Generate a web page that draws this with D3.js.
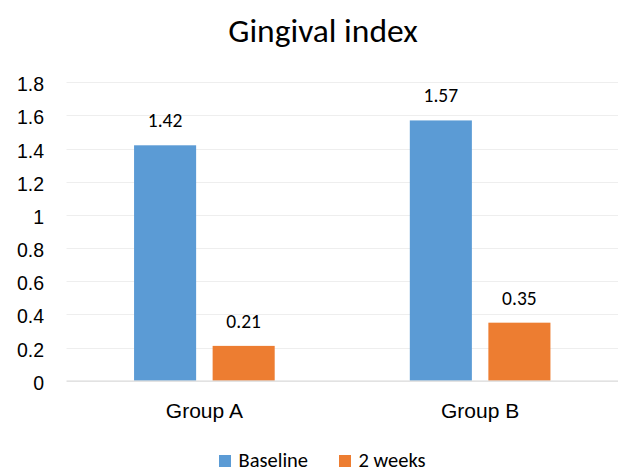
<!DOCTYPE html>
<html>
<head>
<meta charset="utf-8">
<script src="https://cdn.jsdelivr.net/npm/d3@7"></script>
<style>
  html, body { margin: 0; padding: 0; background: #fff; }
  svg { display: block; font-family: Carlito, Calibri, Lato, "Liberation Sans", sans-serif; }
</style>
</head>
<body>
<svg id="chart" width="618" height="472"></svg>
<script>
// Gingival index, grouped bars per group
const groups = ["Group A", "Group B"];
const seriesNames = ["Baseline", "2 weeks"];
const baseline = [1.42, 1.57];
const twoWeeks = [0.21, 0.35];
const yTicks = [0, 0.2, 0.4, 0.6, 0.8, 1, 1.2, 1.4, 1.6, 1.8];
const colors = ["#5B9BD5", "#ED7D31"];

const seriesValues = [baseline, twoWeeks];
const rows = groups.map((g, i) => ({
  group: g,
  values: seriesNames.map((s, j) => ({ series: s, value: seriesValues[j][i] }))
}));

const svg = d3.select("#chart");
const plot = { left: 66.5, right: 618, top: 82.3, bottom: 380.7 };

const y = d3.scaleLinear().domain([0, 1.8]).range([plot.bottom, plot.top]);
const x0 = d3.scaleBand().domain(groups).range([plot.left, plot.right]);
const bw = x0.bandwidth();
const inset = bw * 0.245;
const x1 = d3.scaleBand().domain(seriesNames).range([inset, bw - inset]).paddingInner(0.21);

// gridlines
svg.append("g")
  .selectAll("line")
  .data(yTicks.filter(t => t > 0))
  .join("line")
  .attr("x1", plot.left).attr("x2", plot.right)
  .attr("y1", d => Math.round(y(d)) + 0.5).attr("y2", d => Math.round(y(d)) + 0.5)
  .attr("stroke", "#EEEEEE").attr("stroke-width", 1);

// y tick labels
const yAxis = d3.axisLeft(y).tickValues(yTicks).tickFormat(d3.format("~g")).tickSize(0).tickPadding(0);
const yg = svg.append("g").attr("transform", `translate(44,0)`).call(yAxis);
yg.select(".domain").remove();
yg.selectAll("text")
  .attr("font-size", 19.5).attr("fill", "#000").attr("font-family", null)
  .attr("dy", "8.5px");

// bars
const gGroups = svg.append("g").selectAll("g")
  .data(rows).join("g")
  .attr("transform", d => `translate(${x0(d.group)},0)`);

gGroups.selectAll("rect")
  .data(d => d.values).join("rect")
  .attr("x", d => x1(d.series))
  .attr("width", x1.bandwidth())
  .attr("y", d => y(d.value))
  .attr("height", d => y(0) - y(d.value))
  .attr("fill", (d, i) => colors[i]);

// value labels
gGroups.selectAll("text")
  .data(d => d.values).join("text")
  .attr("x", d => x1(d.series) + x1.bandwidth() / 2)
  .attr("y", d => y(d.value) - 18)
  .attr("text-anchor", "middle")
  .attr("font-size", 19.5)
  .attr("fill", "#000")
  .text(d => d3.format(".2f")(d.value));

// x axis baseline and category labels
svg.append("line")
  .attr("x1", plot.left).attr("x2", plot.right)
  .attr("y1", plot.bottom + 0.5).attr("y2", plot.bottom + 0.5)
  .attr("stroke", "#D9D9D9").attr("stroke-width", 1.2);

const xAxis = d3.axisBottom(x0).tickSize(0).tickPadding(0);
const xg = svg.append("g").attr("transform", `translate(0,${plot.bottom})`).call(xAxis);
xg.select(".domain").remove();
xg.selectAll("text")
  .attr("font-size", 21).attr("fill", "#000").attr("font-family", null)
  .attr("y", 37).attr("dy", null);

// title
svg.append("text")
  .attr("x", 323).attr("y", 42)
  .attr("text-anchor", "middle")
  .attr("font-size", 33.5)
  .attr("fill", "#000")
  .text("Gingival index");

// legend
const legendX = [219, 339];
const lg = svg.append("g").selectAll("g")
  .data(seriesNames).join("g")
  .attr("transform", (d, i) => `translate(${legendX[i]},455)`);
lg.append("rect").attr("width", 12).attr("height", 12).attr("fill", (d, i) => colors[i]);
lg.append("text").attr("x", 19.5).attr("y", 11.5).attr("font-size", 20.5).attr("fill", "#000").text(d => d);
</script>
</body>
</html>
